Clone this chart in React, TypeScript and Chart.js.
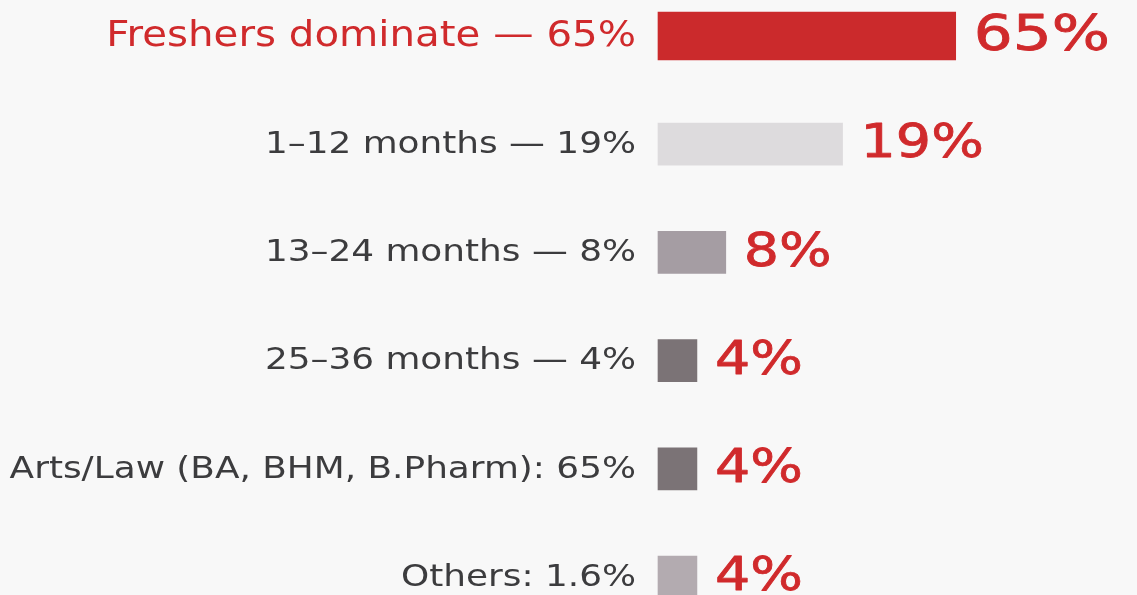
import React, { useEffect, useRef } from "react";
import { Chart, registerables } from "chart.js";

Chart.register(...registerables);

const categories = [
  "Freshers dominate — 65%",
  "1–12 months — 19%",
  "13–24 months — 8%",
  "25–36 months — 4%",
  "Arts/Law (BA, BHM, B.Pharm): 65%",
  "Others: 1.6%",
];
// bar lengths as drawn in the picture (axis units, 0–100)
const barLengths = [65, 40.3, 14.8, 8.5, 8.5, 8.5];
// value labels printed beside each bar
const shares = [65, 19, 8, 4, 4, 4];
const barColors = ["#cb2a2c", "#dddbdd", "#a59da3", "#7b7376", "#7b7376", "#b3abb0"];

const RED = "#d02a2c";
const GREY_TEXT = "#3c3c3e";
const BG = "#f8f8f8";

export default function App() {
  const ref = useRef<HTMLCanvasElement | null>(null);

  useEffect(() => {
    document.body.style.margin = "0";
    document.body.style.background = BG;
    const canvas = ref.current;
    if (!canvas) return;

    const headData = barLengths.map((v, i) => (i === 0 ? v : null));
    const restData = barLengths.map((v, i) => (i === 0 ? null : v));

    const labelPlugin = {
      id: "sideLabels",
      afterDatasetsDraw(chart: any) {
        const ctx = chart.ctx as CanvasRenderingContext2D;
        const yScale = chart.scales.y;
        // category labels
        categories.forEach((text, i) => {
          const y = yScale.getPixelForValue(i);
          const first = i === 0;
          ctx.save();
          ctx.translate(636, y);
          ctx.scale(first ? 1.12 : 1.195, 1);
          ctx.font = `${first ? 36 : 30}px "DejaVu Sans"`;
          ctx.fillStyle = first ? RED : GREY_TEXT;
          ctx.textAlign = "right";
          ctx.textBaseline = "middle";
          ctx.fillText(text, 0, 1);
          ctx.restore();
        });
        // value labels
        chart.data.datasets.forEach((ds: any, di: number) => {
          const meta = chart.getDatasetMeta(di);
          meta.data.forEach((el: any, i: number) => {
            if (ds.data[i] == null) return;
            const first = i === 0;
            ctx.save();
            ctx.translate(el.x + 18, el.y);
            ctx.scale(first ? 1.25 : 1.18, 1);
            ctx.font = `${first ? 49 : 47}px "DejaVu Sans"`;
            ctx.fillStyle = RED;
            ctx.strokeStyle = RED;
            ctx.lineWidth = 0.8;
            ctx.lineJoin = "round";
            ctx.textAlign = "left";
            ctx.textBaseline = "middle";
            ctx.fillText(`${shares[i]}%`, 0, 1);
            ctx.strokeText(`${shares[i]}%`, 0, 1);
            ctx.restore();
          });
        });
      },
    };

    const bgPlugin = {
      id: "bg",
      beforeDraw(chart: any) {
        const ctx = chart.ctx;
        ctx.save();
        ctx.fillStyle = BG;
        ctx.fillRect(0, 0, chart.width, chart.height);
        ctx.restore();
      },
    };

    const chart = new Chart(canvas, {
      type: "bar",
      data: {
        labels: categories,
        datasets: [
          {
            data: headData,
            backgroundColor: barColors,
            barThickness: 48,
            grouped: false,
            clip: false as any,
          },
          {
            data: restData,
            backgroundColor: barColors,
            barThickness: 42,
            grouped: false,
            clip: false as any,
          },
        ],
      },
      options: {
        indexAxis: "y",
        responsive: false,
        animation: false,
        layout: { padding: { left: 658, right: 21, top: 36, bottom: 18 } },
        plugins: {
          legend: { display: false },
          tooltip: { enabled: false },
        },
        scales: {
          x: { type: "linear", min: 0, max: 100, display: false },
          y: { type: "category", offset: false, display: false },
        },
      },
      plugins: [bgPlugin, labelPlugin],
    });

    return () => chart.destroy();
  }, []);

  return (
    <div style={{ width: 1137, height: 595, overflow: "hidden", background: BG }}>
      <canvas ref={ref} width={1137} height={595} style={{ display: "block" }} />
    </div>
  );
}
